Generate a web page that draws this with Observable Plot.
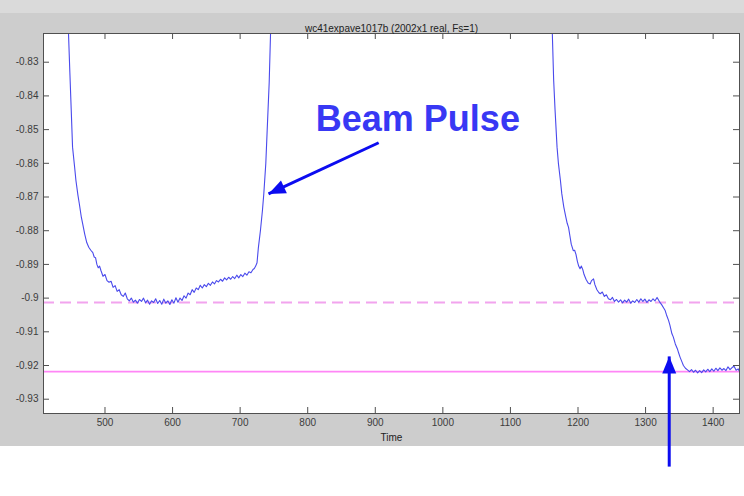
<!DOCTYPE html>
<html><head><meta charset="utf-8">
<script src="https://cdn.jsdelivr.net/npm/d3@7"></script>
<script src="https://cdn.jsdelivr.net/npm/@observablehq/plot@0.6"></script>
<style>
body{margin:0;background:#fff;}
#wrap{position:relative;width:744px;height:496px;background:linear-gradient(#dadada 0 13px,#cdcdcd 13px 446px,#ffffff 446px);}
</style></head><body><div id="wrap"></div>
<script>
const titleText = "wc41expave1017b (2002x1 real, Fs=1)";
const xLabel = "Time";
const xTicks = [500, 600, 700, 800, 900, 1000, 1100, 1200, 1300, 1400];
const yTicks = [-0.83, -0.84, -0.85, -0.86, -0.87, -0.88, -0.89, -0.9, -0.91, -0.92, -0.93];

// first decay / recovery segment
const time1 = [444,446,448,450,452,455,457,460,462,465,467,470,473,476,479,482,484,486,488,490,492,494,497,500,503,506,509,512,515,518,521,524,527,530,533,536,539,542,545,548,551,554,557,560,563,566,569,572,575,578,581,584,587,590,593,596,599,602,605,608,611,614,617,620,623,626,629,632,635,638,641,644,647,650,653,656,659,662,665,668,671,674,677,680,683,686,689,692,695,698,701,704,707,710,713,716,719,721,723,725,727,730,733,735,738,740,743,745,747];
const signal1 = [-0.8190,-0.8215,-0.8330,-0.8440,-0.8552,-0.8610,-0.8651,-0.8695,-0.8720,-0.8760,-0.8780,-0.8810,-0.8835,-0.8849,-0.8858,-0.8865,-0.8878,-0.8880,-0.8900,-0.8910,-0.8905,-0.8918,-0.8935,-0.8930,-0.8948,-0.8953,-0.8950,-0.8968,-0.8963,-0.8980,-0.8975,-0.8990,-0.8995,-0.8985,-0.9002,-0.9008,-0.9000,-0.9012,-0.9006,-0.9015,-0.9004,-0.9010,-0.9000,-0.9014,-0.9006,-0.9018,-0.9008,-0.9013,-0.9002,-0.9016,-0.9007,-0.9018,-0.9003,-0.9015,-0.9008,-0.9019,-0.9005,-0.9015,-0.8999,-0.9012,-0.9000,-0.9007,-0.8993,-0.9000,-0.8985,-0.8990,-0.8975,-0.8983,-0.8970,-0.8975,-0.8962,-0.8970,-0.8960,-0.8966,-0.8956,-0.8962,-0.8952,-0.8958,-0.8948,-0.8952,-0.8944,-0.8950,-0.8940,-0.8946,-0.8938,-0.8944,-0.8936,-0.8942,-0.8932,-0.8940,-0.8930,-0.8936,-0.8926,-0.8932,-0.8922,-0.8925,-0.8915,-0.8912,-0.8905,-0.8895,-0.8850,-0.8800,-0.8740,-0.8691,-0.8600,-0.8503,-0.8360,-0.8215,-0.8150];

// second decay and step down
const time2 = [1160,1162,1164,1166,1169,1171,1174,1176,1179,1182,1184,1186,1188,1190,1193,1195,1197,1199,1201,1203,1205,1207,1209,1212,1215,1218,1220,1223,1225,1228,1231,1233,1236,1239,1242,1245,1248,1251,1254,1257,1260,1263,1266,1269,1272,1275,1278,1281,1284,1287,1290,1293,1296,1299,1302,1305,1308,1311,1314,1317,1319,1321,1324,1327,1329,1331,1334,1336,1339,1341,1344,1347,1349,1351,1354,1356,1359,1362,1365,1368,1371,1374,1377,1380,1383,1386,1389,1392,1395,1398,1401,1404,1407,1410,1413,1416,1419,1422,1425,1428,1431,1434,1437,1439];
const signal2 = [-0.8180,-0.8215,-0.8354,-0.8440,-0.8552,-0.8600,-0.8651,-0.8690,-0.8730,-0.8760,-0.8778,-0.8790,-0.8815,-0.8840,-0.8859,-0.8858,-0.8870,-0.8890,-0.8905,-0.8913,-0.8905,-0.8915,-0.8930,-0.8945,-0.8955,-0.8958,-0.8948,-0.8943,-0.8960,-0.8975,-0.8984,-0.8987,-0.8982,-0.8995,-0.8990,-0.9002,-0.9005,-0.8998,-0.9010,-0.9004,-0.9012,-0.9005,-0.9014,-0.9006,-0.9012,-0.9003,-0.9015,-0.9008,-0.9013,-0.9004,-0.9012,-0.9002,-0.9010,-0.9003,-0.9013,-0.9005,-0.9010,-0.9002,-0.9008,-0.8998,-0.9005,-0.9012,-0.9020,-0.9030,-0.9037,-0.9050,-0.9066,-0.9080,-0.9106,-0.9115,-0.9136,-0.9150,-0.9163,-0.9175,-0.9190,-0.9200,-0.9208,-0.9213,-0.9218,-0.9212,-0.9220,-0.9214,-0.9222,-0.9215,-0.9221,-0.9213,-0.9219,-0.9211,-0.9218,-0.9210,-0.9217,-0.9208,-0.9215,-0.9207,-0.9214,-0.9209,-0.9215,-0.9204,-0.9212,-0.9206,-0.9202,-0.9214,-0.9210,-0.9218];

// reference levels
const dashedLevel = [-0.9013];
const solidLevel = [-0.9218];

// annotations
const labelText = ["Beam Pulse"];
const labelT = [963];
const labelV = [-0.8469];
const arrowT1 = [905, 1335];
const arrowV1 = [-0.8539, -0.9500];
const arrowT2 = [742, 1335];
const arrowV2 = [-0.8691, -0.9173];
const headAngle = [245, 0];

const s1 = time1.map((t, i) => ({t, v: signal1[i]}));
const s2 = time2.map((t, i) => ({t, v: signal2[i]}));
const fmt = d => String(+d.toFixed(2));

const headSymbol = {
  draw(ctx) {
    ctx.moveTo(0, 0);
    ctx.lineTo(7, 17);
    ctx.lineTo(-7, 17);
    ctx.closePath();
  }
};

const W = 744, H = 496, mL = 43, mR = 5, mT = 33, mB = 83;
const innerW = W - mL - mR, innerH = H - mT - mB;
const tk = 6;
const axisColor = "#3c3c3c";
const tickColor = "#505050";
const chart = Plot.plot({
  width: W,
  height: H,
  marginLeft: mL,
  marginRight: mR,
  marginTop: mT,
  marginBottom: mB,
  style: {background: "transparent", fontFamily: "'Liberation Sans', Arial, sans-serif", fontSize: "10px", overflow: "visible"},
  x: {domain: [409, 1439], axis: null},
  y: {domain: [-0.93424, -0.82148], axis: null},
  marks: [
    Plot.frame({fill: "white", stroke: null}),
    Plot.ruleY(dashedLevel, {stroke: "#f2a4ee", strokeWidth: 2, strokeDasharray: "11,6"}),
    Plot.ruleY(solidLevel, {stroke: "#ff86f6", strokeWidth: 1.6}),
    Plot.line(s1, {x: "t", y: "v", stroke: "#4a4aec", strokeWidth: 1.1, clip: true}),
    Plot.line(s2, {x: "t", y: "v", stroke: "#4a4aec", strokeWidth: 1.1, clip: true}),
    // inward tick marks on all four sides
    Plot.tickX(xTicks, {x: d => d, insetTop: innerH - tk, stroke: tickColor}),
    Plot.tickX(xTicks, {x: d => d, insetBottom: innerH - tk, stroke: tickColor}),
    Plot.tickY(yTicks, {y: d => d, insetRight: innerW - tk, stroke: tickColor}),
    Plot.tickY(yTicks, {y: d => d, insetLeft: innerW - tk, stroke: tickColor}),
    // tick labels
    Plot.text(xTicks, {x: d => d, frameAnchor: "bottom", dy: 12, text: d => String(d), fill: axisColor}),
    Plot.text(yTicks, {y: d => d, frameAnchor: "left", dx: -5, textAnchor: "end", text: fmt, fill: axisColor}),
    Plot.frame({stroke: "#505050", strokeWidth: 1}),
    Plot.text([titleText], {frameAnchor: "top", dy: -9, text: d => d, fill: "#222", fontSize: 10}),
    Plot.text([xLabel], {frameAnchor: "bottom", dy: 27, text: d => d, fill: "#222", fontSize: 10}),
    Plot.text(labelText, {x: labelT, y: labelV, text: d => d, fill: "#3838f4", fontSize: 36, fontWeight: "bold", fontFamily: "'Liberation Sans', Arial, sans-serif"}),
    Plot.link({length: 2}, {x1: arrowT1, y1: arrowV1, x2: arrowT2, y2: arrowV2, stroke: "#0c0cf0", strokeWidth: 3}),
    Plot.dot({length: 2}, {x: arrowT2, y: arrowV2, rotate: headAngle, symbol: headSymbol, fill: "#0c0cf0", stroke: null})
  ]
});
document.getElementById("wrap").appendChild(chart);
</script></body></html>
